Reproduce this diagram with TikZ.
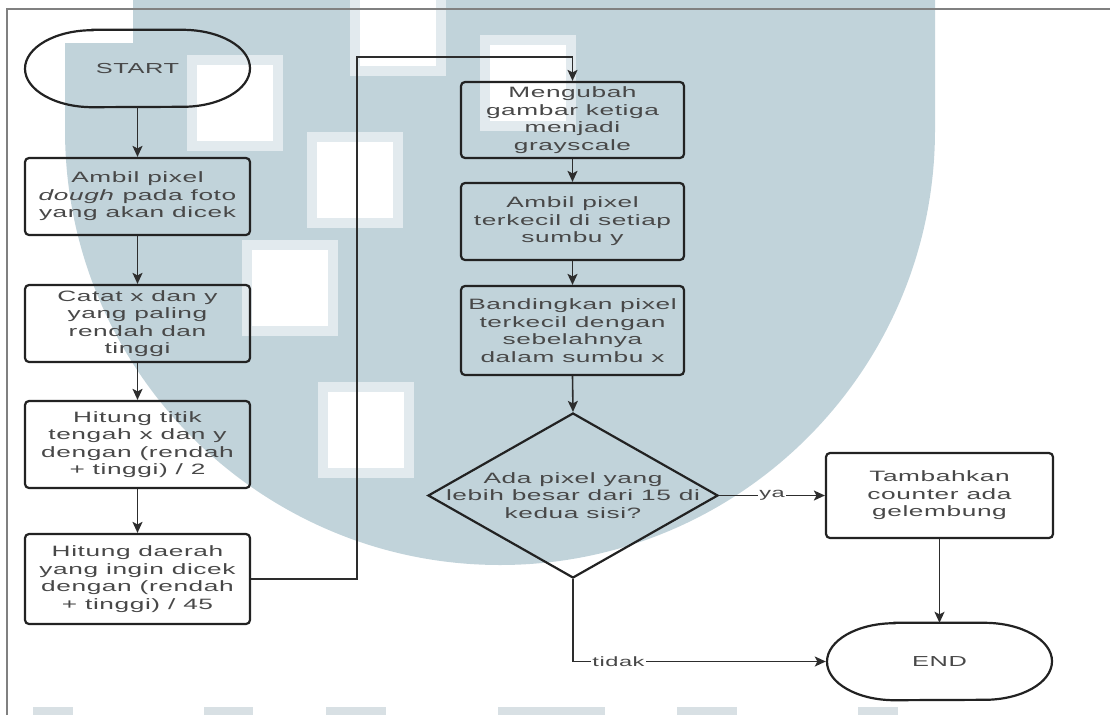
\documentclass[tikz,border=0pt]{standalone}
\usepackage{fontspec}
\setmainfont{Liberation Sans}[FakeStretch=1.75,LetterSpace=4]
\usetikzlibrary{arrows.meta,shapes.geometric,calc}

\definecolor{wm}{RGB}{193,211,218}
\definecolor{wmedge}{RGB}{226,234,238}
\definecolor{wmfoot}{RGB}{216,224,228}
\definecolor{framec}{RGB}{128,128,128}
\definecolor{outline}{RGB}{34,34,34}
\definecolor{connc}{RGB}{45,45,45}
\definecolor{txt}{RGB}{72,72,72}

\newcommand\boxfont{\fontsize{15}{17.5}\selectfont}
\newcommand\termfont{\fontsize{14.5}{17}\selectfont}
\newcommand\lblfont{\fontsize{13.5}{15}\selectfont}

% stadium-like outline with elliptical ends around a terminal node
\newcommand\termoutline[1]{%
  \draw[shapeline] ($(#1.north)+(-45,0)$) -- ($(#1.north)+(45,0)$)
    arc[start angle=-90,end angle=90,x radius=67.5,y radius=38.5]
    -- ($(#1.south)+(-45,0)$)
    arc[start angle=90,end angle=270,x radius=67.5,y radius=38.5] -- cycle;}

\tikzset{
  shapeline/.style={draw=outline,line width=2.2pt},
  proc/.style={shapeline,rounded corners=4pt,minimum width=225pt,inner sep=0pt,
    align=center,text=txt,font=\boxfont},
  terminal/.style={minimum width=225pt,minimum height=77pt,inner sep=0pt,
    text=txt,font=\termfont},
  decision/.style={shapeline,diamond,minimum width=290pt,minimum height=165pt,inner sep=0pt},
  dectext/.style={align=center,text=txt,font=\boxfont,inner sep=0pt},
  conn/.style={draw=connc,line width=1.6pt,-{Stealth[length=11pt,width=10pt,inset=2.5pt]}},
  lbl/.style={fill=white,inner sep=1pt,text=txt,font=\lblfont}
}

\begin{document}
\begin{tikzpicture}[x=1pt,y=-1pt]
\useasboundingbox (0,0) rectangle (1110,715);

% faded logo in the background
\fill[wm] (133,0) -- (133,43) -- (65,43) -- (65,130)
  arc[start angle=180,end angle=0,radius=435] -- (935,0) -- cycle;
\foreach \x/\y in {197/65,317/142,360/-10,490/45,252/250,328/392}{
  \fill[wmedge] (\x-10,\y-10) rectangle (\x+86,\y+86);
  \fill[white] (\x,\y) rectangle (\x+76,\y+76);
}
\foreach \a/\b in {33/73,204/253,326/386,498/605,677/737,858/898}{
  \fill[wmfoot] (\a,707) rectangle (\b,715);
}

% page frame
\draw[framec,line width=1.5pt] (7,715) -- (7,9) -- (1110,9);

% left column
\node[terminal] (start) at (137.5,68.5) {START};
\termoutline{start}
\node[proc,minimum height=77pt] (box1) at (137.5,196.5)
  {Ambil pixel\\\textit{dough} pada foto\\yang akan dicek};
\node[proc,minimum height=77pt] (box2) at (137.5,323.5)
  {Catat x dan y\\yang paling\\rendah dan\\tinggi};
\node[proc,minimum height=87pt] (box3) at (137.5,444.5)
  {Hitung titik\\tengah x dan y\\dengan (rendah\\+ tinggi) / 2};
\node[proc,minimum height=90pt] (box4) at (137.5,579)
  {Hitung daerah\\yang ingin dicek\\dengan (rendah\\+ tinggi) / 45};

% middle column
\node[proc,minimum width=223pt,minimum height=76pt] (box5) at (572.5,120)
  {Mengubah\\gambar ketiga\\menjadi\\grayscale};
\node[proc,minimum width=223pt,minimum height=77pt] (box6) at (572.5,221.5)
  {Ambil pixel\\terkecil di setiap\\sumbu y};
\node[proc,minimum width=223pt,minimum height=89pt] (box7) at (572.5,330.5)
  {Bandingkan pixel\\terkecil dengan\\sebelahnya\\dalam sumbu x};
\node[decision] (dec) at (573,495.5) {};
\node[dectext] (dectxt) at (dec.center)
  {Ada pixel yang\\lebih besar dari 15 di\\kedua sisi?};

% right column
\node[proc,minimum width=227pt,minimum height=85pt] (box8) at (939.5,495.5)
  {Tambahkan\\counter ada\\gelembung};
\node[terminal,minimum width=227pt,minimum height=77pt] (end) at (939.5,661.5) {END};
\termoutline{end}

% connectors
\coordinate (j1) at (357,57);
\draw[conn] (start) -- (box1);
\draw[conn] (box1) -- (box2);
\draw[conn] (box2) -- (box3);
\draw[conn] (box3) -- (box4);
\draw[conn] (box4.east) -| (j1) -| (box5.north);
\draw[conn] (box5) -- (box6);
\draw[conn] (box6) -- (box7);
\draw[conn] (box7.south) -- (dec.north);
\draw[conn] (dec.east) -- node[lbl]{ya} (box8.west);
\draw[conn] (box8) -- (end);
\draw[conn] (dec.south) |- node[lbl,pos=0.59]{tidak} (end.west);
\end{tikzpicture}
\end{document}
